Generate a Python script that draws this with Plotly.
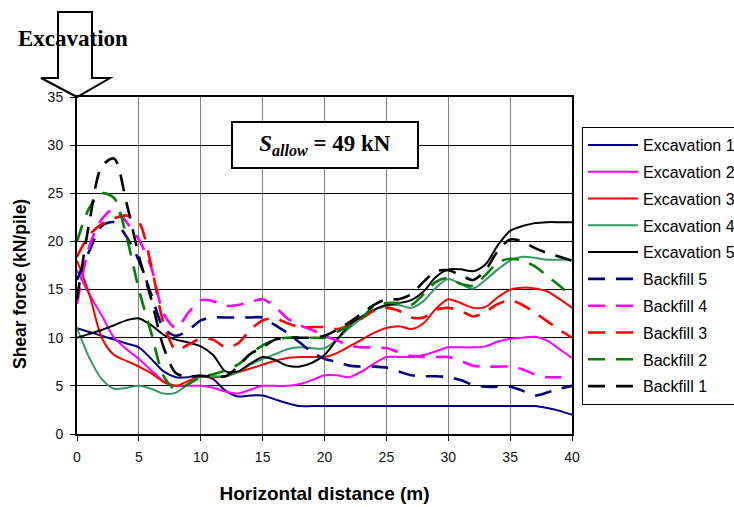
import plotly.graph_objects as go

# ---- data ----
distance = list(range(0, 41))

excavation_1 = [11, 10.6, 10.2, 9.8, 9.4, 9.0, 7.8, 6.5, 5.9, 5.9, 6.1, 5.7, 4.5, 3.9, 4.0, 4.0,
                3.6, 3.2, 2.9, 2.9, 2.9, 2.9, 2.9, 2.9, 2.9, 2.9, 2.9, 2.9, 2.9, 2.9, 2.9,
                2.9, 2.9, 2.9, 2.9, 2.9, 2.9, 2.9, 2.7, 2.4, 2.0]
excavation_2 = [17, 14.5, 12.3, 10, 8.8, 7.8, 6.6, 5.5, 5, 5, 5, 4.8, 4.4, 4.2, 4.6, 5,
                5, 5, 5.2, 5.6, 6.1, 6.1, 5.9, 6.5, 7.3, 8, 8, 8, 8.2, 8.6, 9,
                9, 9, 9.1, 9.6, 9.9, 10, 10.1, 9.7, 8.8, 7.9]
excavation_3 = [18, 14.5, 10, 8.2, 7.6, 7, 6.3, 5.4, 5, 5.5, 6, 5.9, 6, 6.4, 6.8, 7.2,
                7.6, 7.9, 8, 8, 8, 8.4, 9.1, 9.8, 10.5, 11, 11.2, 10.9, 11.5, 13, 14,
                13.6, 13.1, 13.2, 14.2, 15, 15.2, 15.1, 14.8, 14, 13.1]
excavation_4 = [11, 7.9, 5.7, 4.7, 4.8, 5, 4.7, 4.2, 4.3, 5.2, 6, 6, 6, 6.4, 7.2, 7.8,
                8.3, 8.8, 9, 8.9, 8.9, 9.8, 11, 12, 12.9, 13.3, 13.4, 13.1, 13.8, 15.2, 16.1,
                15.6, 15.1, 16, 17.1, 18, 18.4, 18.3, 18.1, 18.1, 18.1]
excavation_5 = [10, 10.4, 10.8, 11.3, 11.8, 12, 11.3, 10.3, 9.8, 9.5, 9.1, 8.2, 6.5, 6.5, 7.3, 8,
                7.7, 7.1, 7, 7.4, 8.2, 9.8, 11.3, 12.2, 12.9, 13.4, 13.6, 13.9, 14.8, 16.3, 17.1,
                17.1, 16.9, 17.6, 19.6, 21.1, 21.6, 21.9, 22, 22, 22]
backfill_5 = [16, 19, 21.6, 22, 20.5, 18, 14.5, 11, 10.2, 10.8, 11.8, 12.1, 12.1, 12.1, 12.1, 12.1,
              11.3, 10.5, 9.5, 8.5, 7.8, 7.5, 7.1, 7, 7, 6.9, 6.5, 6.1, 6, 6, 5.9,
              5.6, 5.1, 4.9, 4.9, 4.9, 4.5, 4.0, 4.3, 4.7, 5]
backfill_4 = [13.5, 19.5, 22.3, 23.4, 22, 20.2, 17.3, 12.5, 11, 12.6, 13.9, 13.8, 13.3, 13.4, 13.7, 14,
              13.2, 12, 11.3, 10.8, 10.2, 9.7, 9.2, 9, 9, 8.9, 8.5, 8.1, 8, 8, 8,
              7.6, 7.1, 7, 7, 7, 6.7, 6.2, 5.9, 5.9, 5.9]
backfill_3 = [18.4, 20.7, 21.8, 22.4, 22.7, 22, 17.5, 11.5, 8.7, 9.3, 9.9, 9.8, 9.0, 9.4, 10.8, 11.8,
              12, 11.5, 11.1, 11.1, 11.1, 10.9, 11.3, 12, 12.8, 13.1, 12.8, 12.1, 12.1, 12.9, 13.1,
              12.8, 12.2, 12.7, 13.5, 13.9, 13.4, 12.6, 11.7, 10.8, 10]
backfill_2 = [20, 23.5, 25, 24.5, 20.5, 15, 10.5, 6, 4.6, 5.2, 5.9, 6.2, 6.6, 7.2, 8.3, 9.2,
              9.8, 10, 10, 10, 10, 10.6, 11.2, 12, 13.3, 13.6, 13.6, 13.4, 14.5, 15.8, 16.2,
              15.6, 15.4, 16.5, 17.8, 18.2, 18, 17.4, 16.4, 15.4, 14.2]
backfill_1 = [14, 22, 27.8, 28.6, 24, 18.5, 14, 9, 6.3, 6, 6, 6, 6, 7, 8.3, 9,
              9.8, 10, 10, 10, 10.2, 10.8, 11.6, 12.5, 13.4, 14, 14, 14.5, 15.8, 16.9, 17,
              16.5, 16, 17, 19, 20.2, 20, 19.3, 18.8, 18.4, 18]

series_names = ["Excavation 1", "Excavation 2", "Excavation 3", "Excavation 4", "Excavation 5",
                "Backfill 5", "Backfill 4", "Backfill 3", "Backfill 2", "Backfill 1"]
series_values = [excavation_1, excavation_2, excavation_3, excavation_4, excavation_5,
                 backfill_5, backfill_4, backfill_3, backfill_2, backfill_1]
series_colors = ["#000080", "#FF00FF", "#FF0000", "#339966", "#000000",
                 "#000080", "#FF00FF", "#FF0000", "#008000", "#000000"]
series_dashed = [False] * 5 + [True] * 5

x_ticks = [0, 5, 10, 15, 20, 25, 30, 35, 40]
y_ticks = [0, 5, 10, 15, 20, 25, 30, 35]

# ---- figure ----
W, H = 734, 507
ML, MR, MT, MB = 77, 162, 97, 73
PW, PH = W - ML - MR, H - MT - MB

fig = go.Figure()
for name, vals, col, dashed in zip(series_names, series_values, series_colors, series_dashed):
    fig.add_trace(go.Scatter(
        x=distance, y=vals, name=name, mode="lines", legendgroup=name,
        line=dict(color=col, width=2.6 if dashed else 2.0,
                  dash="17px,11px" if dashed else "solid",
                  shape="spline", smoothing=0.8),
        hoverinfo="skip",
    ))

def px(X):
    return (X - ML) / PW

def py(Y):
    return (H - MB - Y) / PH

# block arrow (decoration) pointing at the top-left corner of the plot
arrow_pts = [(77, 97), (41, 78), (58, 78), (58, 12), (92, 12), (92, 78), (110, 78)]
path = "M " + " L ".join(f"{px(a):.4f},{py(b):.4f}" for a, b in arrow_pts) + " Z"
fig.add_shape(type="path", path=path, xref="paper", yref="paper",
              line=dict(color="black", width=2), fillcolor="rgba(0,0,0,0)", layer="above")

fig.add_annotation(x=px(73), y=py(38), xref="paper", yref="paper", text="<b>Excavation</b>",
                   showarrow=False, font=dict(family="Liberation Serif", size=23, color="black"),
                   xanchor="center", yanchor="middle")

fig.add_annotation(x=20, y=30, xref="x", yref="y",
                   text="<b><i>S</i></b><sub><b><i>allow</i></b></sub><b> = 49 kN</b>",
                   showarrow=False, font=dict(family="Liberation Serif", size=23, color="black"),
                   bgcolor="white", bordercolor="black", borderwidth=2, borderpad=1,
                   width=182, height=42, xanchor="center", yanchor="middle")

# y-axis title (placed as in the reference, slightly below the plot centre)
fig.add_annotation(x=px(20), y=py(284), xref="paper", yref="paper",
                   text="<b>Shear force (kN/pile)</b>", textangle=-90, showarrow=False,
                   font=dict(family="Liberation Sans", size=17.5, color="black"),
                   xanchor="center", yanchor="middle")

axis_common = dict(showgrid=True, showline=True, linecolor="black", linewidth=2, mirror=True,
                   ticks="outside", ticklen=5, tickcolor="black", tickwidth=1, zeroline=False,
                   ticklabelstandoff=4,
                   tickfont=dict(family="Liberation Sans", size=14, color="#111111"))

fig.update_layout(
    width=W, height=H,
    margin=dict(l=ML, r=MR, t=MT, b=MB, autoexpand=False),
    paper_bgcolor="white", plot_bgcolor="white",
    showlegend=True,
    legend=dict(x=px(582), y=py(127), xanchor="left", yanchor="top",
                bordercolor="black", borderwidth=1, bgcolor="white",
                font=dict(family="Liberation Sans", size=16, color="black"),
                itemwidth=50, tracegroupgap=3),
    xaxis=dict(range=[0, 40], tickvals=x_ticks, gridcolor="#808080", gridwidth=1,
               title=dict(text="<b>Horizontal distance (m)</b>", standoff=23,
                          font=dict(family="Liberation Sans", size=19, color="black")),
               **axis_common),
    yaxis=dict(range=[0, 35], tickvals=y_ticks, gridcolor="#000000", gridwidth=1,
               **axis_common),
)

fig.write_html("out.html")
